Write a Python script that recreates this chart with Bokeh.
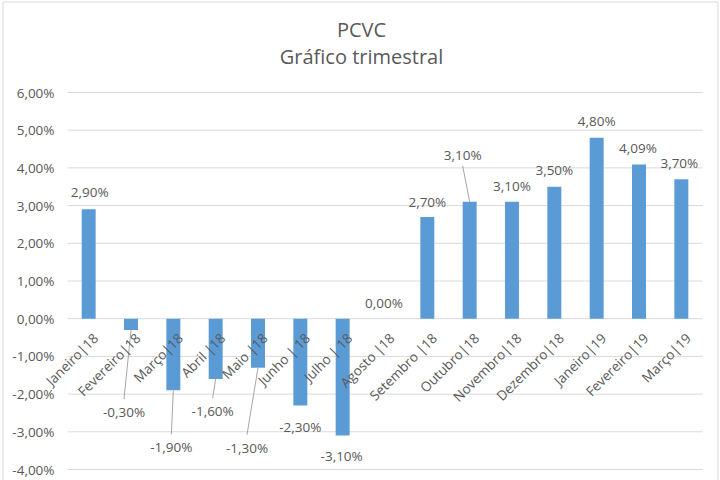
import math
from bokeh.plotting import figure
from bokeh.models import Range1d, ColumnDataSource
from bokeh.core.properties import value
from bokeh.embed import file_html
from bokeh.resources import INLINE

# ---- data ----
title_lines = ["PCVC", "Gráfico trimestral"]
categories = ["Janeiro|18", "Fevereiro|18", "Março|18", "Abril |18", "Maio |18",
              "Junho | 18", "Julho | 18", "Agosto |18", "Setembro |18", "Outubro|18",
              "Novembro|18", "Dezembro|18", "Janeiro|19", "Fevereiro|19", "Março|19"]
values = [2.90, -0.30, -1.90, -1.60, -1.30, -2.30, -3.10, 0.00, 2.70, 3.10,
          3.10, 3.50, 4.80, 4.09, 3.70]
y_ticks = [-4, -3, -2, -1, 0, 1, 2, 3, 4, 5, 6]

# data-label placement (pixel offsets from the bar end, as in the reference)
lbl_dx = [1, -7, -2, -3, -11, 0, -1, -1, 0, -7, 0, 0, 0, -1, -2]
lbl_dy = [-17, 82, 57, 32, 80, 22, 20, -16, -15, -47, -16, -17, -17, -17, -16]
leader = [False, True, True, True, True, False, False, False, False, True,
          False, False, False, False, False]

FONT = "Open Sans"
TXT = "#595959"
BAR = "#5B9BD5"
GRID = "#D9D9D9"

# layout (pixels)
W, H = 720, 480
PL, PR, PT, PB = 67, 702, 92, 469          # plot-area edges
n = len(categories)
ymin, ymax = min(y_ticks), max(y_ticks)
px_x = (PR - PL) / n
px_y = (PB - PT) / (ymax - ymin)

def dx(px):
    return px / px_x

def dy(px):
    return px / px_y

def sx(X):   # page pixel -> data x
    return -0.5 + dx(X - PL)

def sy(Y):   # page pixel -> data y
    return ymax + dy(PT - Y)

p = figure(width=W, height=H, output_backend="svg", toolbar_location=None,
           x_range=Range1d(sx(0), sx(W)), y_range=Range1d(sy(H), sy(0)),
           min_border=0)
p.outline_line_color = None
p.background_fill_color = "white"
p.border_fill_color = "white"
p.axis.visible = False
p.grid.visible = False

idx = list(range(n))

# chart-area border (left, top, right)
p.line(x=[sx(2.5), sx(2.5), sx(717.5), sx(717.5)],
       y=[sy(H), sy(1.5), sy(1.5), sy(H)], line_color=GRID, line_width=1)

# horizontal gridlines across the category area
p.segment(x0=[-0.5] * len(y_ticks), x1=[n - 0.5] * len(y_ticks),
          y0=y_ticks, y1=y_ticks, line_color=GRID, line_width=1)

# value-axis tick labels
tick_txt = [f"{t:.2f}".replace(".", ",") + "%" for t in y_ticks]
p.text(x=[-0.5 - dx(13)] * len(y_ticks), y=y_ticks, text=tick_txt,
       text_align="right", text_baseline="middle", text_font=value(FONT),
       text_font_size="13.5px", text_color=TXT)

# bars
p.vbar(x=idx, top=values, bottom=0, width=0.33, fill_color=BAR, line_color=None)

# leader lines
lx = [i + dx(d) for i, d in zip(idx, lbl_dx)]
ly = [v - dy(d) for v, d in zip(values, lbl_dy)]
x0, y0, x1, y1 = [], [], [], []
for i in idx:
    if leader[i]:
        x0.append(i)
        y0.append(values[i])
        x1.append(lx[i])
        gap = 13 if lbl_dy[i] > 0 else -11
        y1.append(ly[i] + dy(gap))
p.segment(x0=x0, y0=y0, x1=x1, y1=y1, line_color="#A6A6A6", line_width=1)

# category labels (rotated, drawn at the zero line)
cat_src = ColumnDataSource(dict(x=[i + dx(7) for i in idx],
                                y=[-dy(17)] * n, t=categories))
p.text(x="x", y="y", text="t", source=cat_src, angle=math.pi / 4,
       text_align="right", text_baseline="middle", text_font=value(FONT),
       text_font_size="13.5px", text_color=TXT)

# data labels
texts = [f"{v:.2f}".replace(".", ",") + "%" for v in values]
lab_src = ColumnDataSource(dict(x=lx, y=ly, t=texts))
p.text(x="x", y="y", text="t", source=lab_src, text_align="center",
       text_baseline="middle", text_font=value(FONT), text_font_size="13.5px",
       text_color=TXT)

# two-line title
p.text(x=[sx(361), sx(361)], y=[sy(29), sy(56)], text=title_lines,
       text_align="center", text_baseline="middle", text_font=value(FONT),
       text_font_size="20px", text_color=TXT)

open("out.html", "w").write(file_html(p, INLINE))
